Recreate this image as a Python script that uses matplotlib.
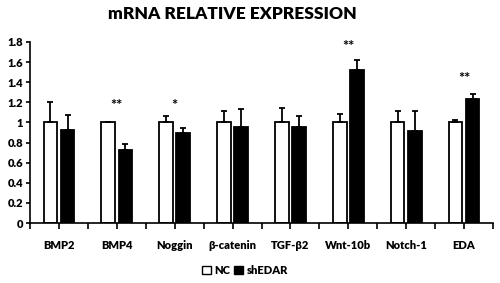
import matplotlib
matplotlib.use("Agg")
import matplotlib.pyplot as plt
from matplotlib.patches import Patch
import numpy as np

# data
genes      = ["BMP2", "BMP4", "Noggin", "β-catenin", "TGF-β2", "Wnt-10b", "Notch-1", "EDA"]
nc_mean    = [1.00, 1.00, 1.00, 1.00, 1.00, 1.00, 1.00, 1.00]
nc_err     = [0.20, 0.005, 0.065, 0.11, 0.14, 0.085, 0.11, 0.025]
sh_mean    = [0.92, 0.73, 0.895, 0.95, 0.955, 1.52, 0.91, 1.235]
sh_err     = [0.15, 0.055, 0.045, 0.18, 0.105, 0.095, 0.20, 0.045]
stars      = ["", "**", "*", "", "", "**", "", "**"]
star_y     = [0, 1.16, 1.16, 0, 0, 1.75, 0, 1.43]

FONT = ["Lato", "DejaVu Sans"]
plt.rcParams["font.family"] = FONT

fig = plt.figure(figsize=(5.0, 2.83), dpi=100, facecolor="white")
ax = fig.add_axes([0.06, 0.212, 0.926, 0.64])

x = np.arange(len(genes))
w = 0.235
off = 0.148
ekw = dict(elinewidth=1.3, capthick=1.3, ecolor="black")

ax.bar(x - off, nc_mean, w, color="white", edgecolor="black", linewidth=1.3,
       yerr=[np.zeros(len(x)), nc_err], capsize=2.5, error_kw=ekw, zorder=2)
ax.bar(x + off, sh_mean, w, color="black", edgecolor="black", linewidth=1.3,
       yerr=[np.zeros(len(x)), sh_err], capsize=2.5, error_kw=ekw, zorder=2)

for i, s in enumerate(stars):
    if s:
        ax.text(x[i], star_y[i], s, ha="center", va="center",
                fontsize=10.5, fontweight="bold", color="black")

ax.set_xlim(-0.5, len(genes) - 0.5)
ax.set_ylim(0, 1.8)
ax.set_yticks(np.arange(0, 1.81, 0.2))
ax.set_yticklabels(["0", "0.2", "0.4", "0.6", "0.8", "1", "1.2", "1.4", "1.6", "1.8"],
                   fontsize=8, fontweight="heavy")
ax.set_xticks(x)
ax.set_xticklabels(genes, fontsize=8, fontweight="heavy")
ax.set_xticks(np.arange(-0.5, len(genes), 1.0), minor=True)
ax.tick_params(axis="x", which="both", direction="out", length=4, width=1.2, pad=8)
ax.tick_params(axis="y", direction="out", length=3, width=1.2, pad=2)

for sp in ["top", "right"]:
    ax.spines[sp].set_visible(False)
for sp in ["left", "bottom"]:
    ax.spines[sp].set_linewidth(1.2)

fig.text(0.465, 0.95, "mRNA RELATIVE EXPRESSION", ha="center", va="center",
         fontsize=12.5, fontweight="heavy")

handles = [Patch(facecolor="white", edgecolor="black", linewidth=1.0, label="NC"),
           Patch(facecolor="black", edgecolor="black", linewidth=1.0, label="shEDAR")]
fig.legend(handles=handles, loc="center", bbox_to_anchor=(0.49, 0.045), ncol=2,
           frameon=False, handlelength=0.8, handleheight=0.8, handletextpad=0.3,
           columnspacing=0.4, prop={"size": 8, "weight": "heavy"})

fig.savefig("out.png", dpi=100, facecolor="white")
